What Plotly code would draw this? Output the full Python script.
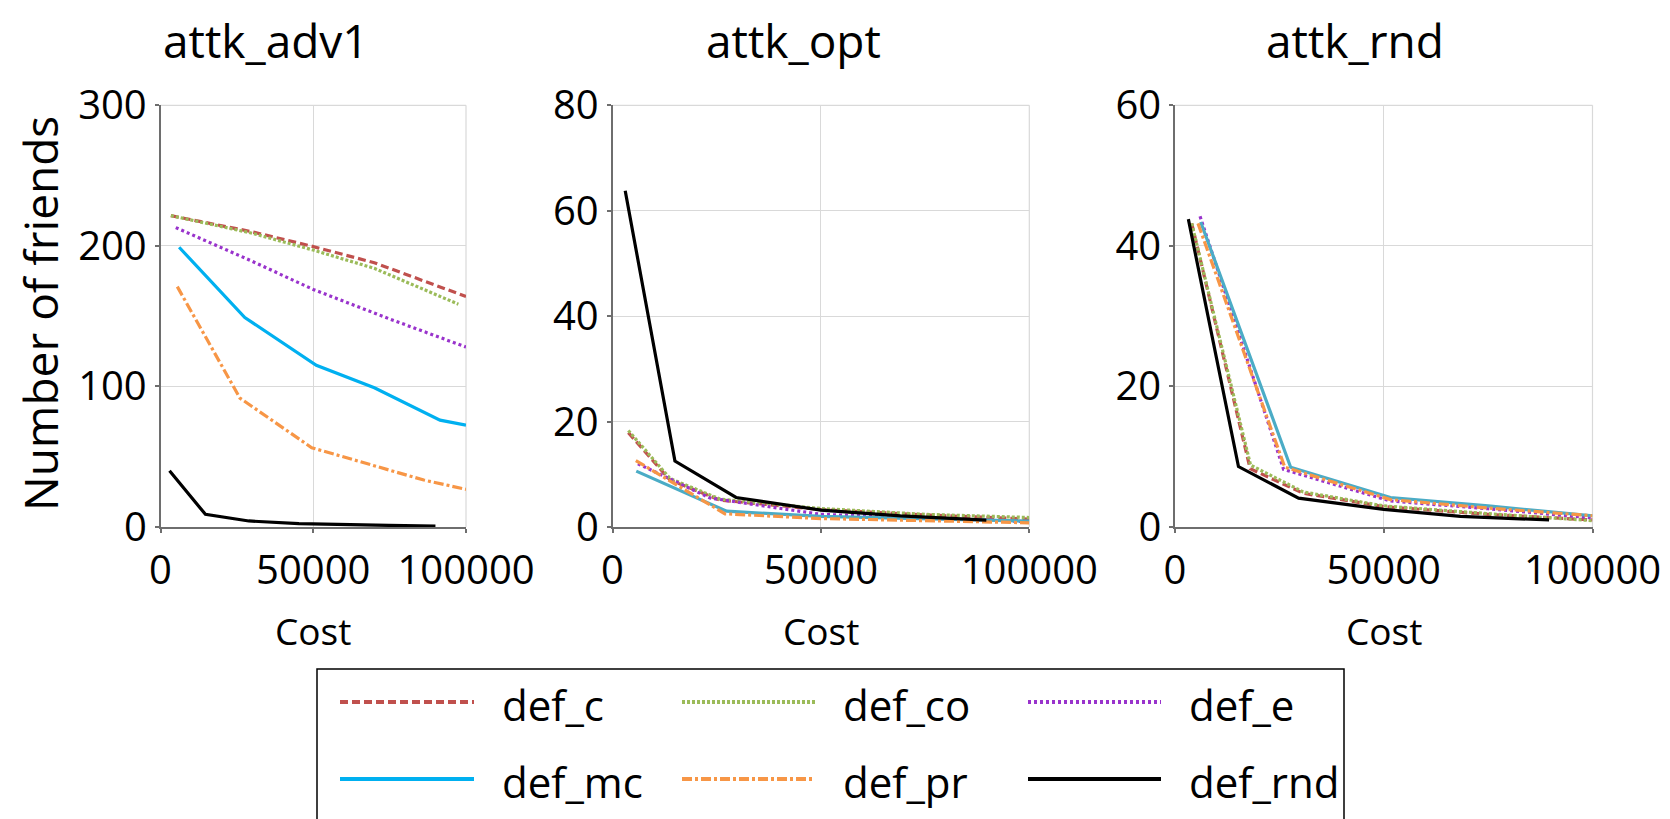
import plotly.graph_objects as go

W, H = 1670, 819

series_names = ["def_c", "def_co", "def_e", "def_mc", "def_pr", "def_rnd"]
panel_titles = ["attk_adv1", "attk_opt", "attk_rnd"]
y_max = [300, 80, 60]
y_dtick = [100, 20, 20]
x_tickvals = [0, 50000, 100000]

# ---- attk_adv1 ----
adv1_c_x = [3400, 30000, 50000, 70000, 100000]
adv1_c_y = [221.5, 210, 199.5, 188, 164]
adv1_co_x = [3400, 30000, 50000, 70000, 97500]
adv1_co_y = [221.5, 209, 197, 184, 158.5]
adv1_e_x = [5000, 28000, 50000, 75000, 100000]
adv1_e_y = [213, 191, 169, 148, 128]
adv1_mc_x = [6100, 27600, 51000, 70000, 91500, 100000]
adv1_mc_y = [199, 149, 115, 99, 76, 72.5]
adv1_pr_x = [5500, 26000, 49500, 86200, 100000]
adv1_pr_y = [171, 91.7, 56.4, 33.4, 26.8]
adv1_rnd_x = [2950, 14700, 28900, 45300, 74700, 90000]
adv1_rnd_y = [40, 9, 4.3, 2.4, 1.2, 0.7]

# ---- attk_opt ----
opt_c_x = [3800, 13800, 25800, 50000, 75000, 100000]
opt_c_y = [17.9, 8.9, 5.1, 3.3, 2.3, 1.5]
opt_co_x = [3800, 13800, 25800, 50000, 75000, 100000]
opt_co_y = [18.3, 9.2, 5.3, 3.5, 2.4, 1.8]
opt_e_x = [6100, 23400, 50000, 100000]
opt_e_y = [12.0, 5.5, 2.4, 1.0]
opt_pr_x = [5600, 27000, 50000, 100000]
opt_pr_y = [12.6, 2.5, 1.6, 0.8]
opt_mc_x = [5700, 27400, 50000, 100000]
opt_mc_y = [10.6, 3.0, 2.0, 1.1]
opt_rnd_x = [3050, 14980, 29650, 50000, 69100, 89700]
opt_rnd_y = [63.8, 12.5, 5.6, 3.2, 2.1, 1.3]

# ---- attk_rnd ----
rnd_c_x = [4000, 18000, 30700, 50000, 75000, 100000]
rnd_c_y = [43.2, 8.3, 4.8, 2.9, 1.8, 1.0]
rnd_co_x = [4000, 18100, 30700, 50000, 75000, 100000]
rnd_co_y = [43.2, 8.8, 5.0, 3.0, 1.9, 0.9]
rnd_e_x = [6000, 26000, 51600, 75000, 100000]
rnd_e_y = [44.2, 8.2, 3.7, 2.6, 1.3]
rnd_pr_x = [5500, 26300, 51600, 75000, 100000]
rnd_pr_y = [43.2, 8.5, 3.9, 2.7, 1.6]
rnd_mc_x = [6150, 27700, 51600, 75000, 100000]
rnd_mc_y = [43.4, 8.5, 4.2, 3.0, 1.6]
rnd_rnd_x = [3200, 15200, 29600, 50000, 68400, 89600]
rnd_rnd_y = [43.8, 8.6, 4.1, 2.5, 1.5, 1.0]

panels = [
    [(adv1_c_x, adv1_c_y), (adv1_co_x, adv1_co_y), (adv1_e_x, adv1_e_y),
     (adv1_mc_x, adv1_mc_y), (adv1_pr_x, adv1_pr_y), (adv1_rnd_x, adv1_rnd_y)],
    [(opt_c_x, opt_c_y), (opt_co_x, opt_co_y), (opt_e_x, opt_e_y),
     (opt_mc_x, opt_mc_y), (opt_pr_x, opt_pr_y), (opt_rnd_x, opt_rnd_y)],
    [(rnd_c_x, rnd_c_y), (rnd_co_x, rnd_co_y), (rnd_e_x, rnd_e_y),
     (rnd_mc_x, rnd_mc_y), (rnd_pr_x, rnd_pr_y), (rnd_rnd_x, rnd_rnd_y)],
]

colors = ["#C0504D", "#9BBB59", "#9933CC", "#00B0F0", "#F79646", "#000000"]
mc_colors_panel = ["#00B0F0", "#4BACC6", "#4BACC6"]
dashes = ["8px,4px", "3px,2px", "3px,3px", "solid", "10px,3px,3px,3px", "solid"]
widths = [3.2, 3.2, 3.2, 3.2, 3.2, 3.2]

FONT = "Open Sans"

# pixel layout
plot_x = [(160.5, 466.0), (612.5, 1029.3), (1175.0, 1592.5)]
plot_top, plot_bot = 105.3, 527.0

def px(x):
    return x / W

def py(y):
    return 1 - y / H

fig = go.Figure()
for p in range(3):
    sfx = "" if p == 0 else str(p + 1)
    for s in range(6):
        xs, ys = panels[p][s]
        col = mc_colors_panel[p] if s == 3 else colors[s]
        fig.add_trace(go.Scatter(
            x=xs, y=ys, mode="lines", name=series_names[s],
            line=dict(color=col, width=widths[s], dash=dashes[s]),
            xaxis="x" + sfx, yaxis="y" + sfx, showlegend=False,
        ))

axis_common = dict(
    showline=True, linecolor="#6e6e6e", linewidth=1.5,
    ticks="outside", ticklen=4, tickcolor="#6e6e6e", tickwidth=1.5,
    showgrid=True, gridcolor="#d9d9d9", gridwidth=1.2, zeroline=False,
    automargin=False,
    tickfont=dict(family=FONT, size=40, color="black"),
)

layout = dict(
    width=W, height=H, margin=dict(l=0, r=0, t=0, b=0, autoexpand=False),
    paper_bgcolor="white", plot_bgcolor="white", showlegend=False,
)
for p in range(3):
    sfx = "" if p == 0 else str(p + 1)
    layout["xaxis" + sfx] = dict(
        axis_common, domain=[px(plot_x[p][0]), px(plot_x[p][1])],
        range=[0, 100000], tickvals=x_tickvals,
        ticktext=[str(v) for v in x_tickvals],
        anchor="y" + sfx, ticklabelstandoff=3,
    )
    layout["yaxis" + sfx] = dict(
        axis_common, domain=[py(plot_bot), py(plot_top)],
        range=[0, y_max[p]], dtick=y_dtick[p], tick0=0,
        anchor="x" + sfx,
    )
fig.update_layout(**layout)

ann = []
shapes = []
title_x = [266, 793, 1355]
for p in range(3):
    ann.append(dict(text=panel_titles[p], x=px(title_x[p]), y=py(40),
                    xref="paper", yref="paper", xanchor="center", yanchor="middle",
                    showarrow=False, font=dict(family=FONT, size=46, color="black")))
    cx = (plot_x[p][0] + plot_x[p][1]) / 2
    ann.append(dict(text="Cost", x=px(cx), y=py(630),
                    xref="paper", yref="paper", xanchor="center", yanchor="middle",
                    showarrow=False, font=dict(family=FONT, size=37, color="black")))
    # light grid border at right and top edges of each plot
    shapes.append(dict(type="line", xref="paper", yref="paper", layer="below",
                       x0=px(plot_x[p][1]), x1=px(plot_x[p][1]),
                       y0=py(plot_bot), y1=py(plot_top),
                       line=dict(color="#d9d9d9", width=1.2)))
    shapes.append(dict(type="line", xref="paper", yref="paper", layer="below",
                       x0=px(plot_x[p][0]), x1=px(plot_x[p][1]),
                       y0=py(plot_top), y1=py(plot_top),
                       line=dict(color="#d9d9d9", width=1.2)))
ann.append(dict(text="Number of friends", x=px(40), y=py(314), textangle=-90,
                xref="paper", yref="paper", xanchor="center", yanchor="middle",
                showarrow=False, font=dict(family=FONT, size=46, color="black")))

# legend (drawn manually)
shapes.append(dict(type="rect", xref="paper", yref="paper",
                   x0=px(317), x1=px(1344), y0=py(669), y1=py(840),
                   line=dict(color="black", width=1.5), fillcolor="rgba(0,0,0,0)"))
col_line_x = [(340, 474), (682, 815), (1028, 1161)]
col_text_x = [500, 841, 1187]
row_y = [702, 779]
leg_colors = ["#C0504D", "#9BBB59", "#9933CC", "#00B0F0", "#F79646", "#000000"]
for i, name in enumerate(series_names):
    r, c = divmod(i, 3)
    shapes.append(dict(type="line", xref="paper", yref="paper",
                       x0=px(col_line_x[c][0]), x1=px(col_line_x[c][1]),
                       y0=py(row_y[r]), y1=py(row_y[r]),
                       line=dict(color=leg_colors[i], width=4, dash=dashes[i])))
    ann.append(dict(text=name, x=px(col_text_x[c]), y=py(row_y[r] + 2),
                    xref="paper", yref="paper", xanchor="left", yanchor="middle",
                    showarrow=False, font=dict(family=FONT, size=42, color="black")))

fig.update_layout(annotations=ann, shapes=shapes)
fig.write_html("out.html")
